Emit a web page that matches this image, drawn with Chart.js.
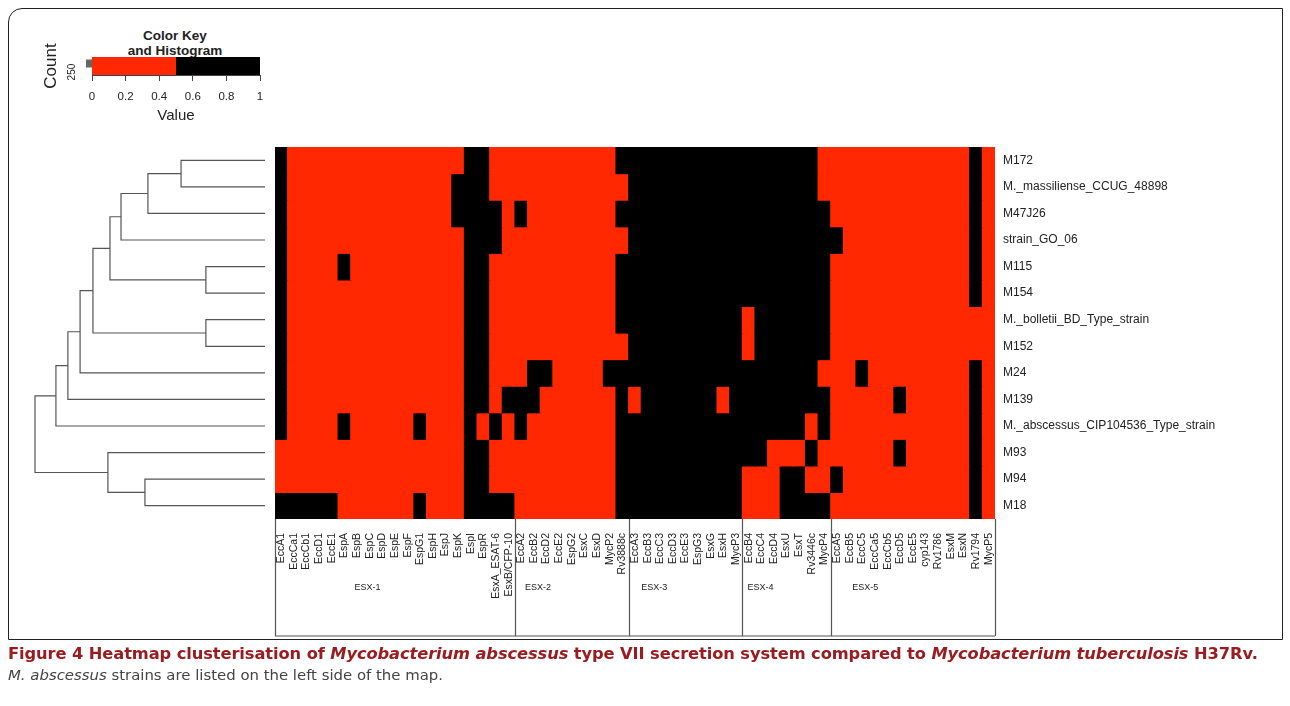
<!DOCTYPE html>
<html>
<head>
<meta charset="utf-8">
<script src="https://cdn.jsdelivr.net/npm/chart.js@4.4.1/dist/chart.umd.min.js"></script>
<style>
  html, body { margin: 0; padding: 0; background: #fff; }
  body { width: 1290px; height: 706px; position: relative; overflow: hidden; font-family: "Liberation Sans", Arial, sans-serif; }
  .frame { position: absolute; left: 8px; top: 8px; width: 1275px; height: 632px; border: 1.5px solid #222; border-top-left-radius: 14px; box-sizing: border-box; }
  canvas { position: absolute; }
  .keytitle { position: absolute; left: 100px; width: 150px; text-align: center; font-weight: bold; font-size: 13.5px; color: #222; line-height: 15px; }
  .cap { position: absolute; left: 8px; top: 643px; width: 1282px; font-family: "DejaVu Sans", sans-serif; line-height: 21px; color: #444; white-space: nowrap; }
  .cap .l1 { font-size: 16.3px; font-weight: bold; color: #9a1c20; letter-spacing: -0.1px; }
  .cap .l2 { font-size: 14.9px; }
</style>
</head>
<body>
<div class="frame"></div>
<div class="keytitle" style="top:28px">Color Key<br>and Histogram</div>
<canvas id="keyChart" width="300" height="125" style="left:0;top:0"></canvas>
<canvas id="dendro" width="275" height="392" style="left:0;top:137px"></canvas>
<canvas id="heat" width="1000" height="508" style="left:265px;top:139px"></canvas>
<div class="cap"><span class="l1">Figure 4 Heatmap clusterisation of <i>Mycobacterium abscessus</i> type VII secretion system compared to <i>Mycobacterium tuberculosis</i> H37Rv.</span><br><span class="l2"><i>M. abscessus</i> strains are listed on the left side of the map.</span></div>
<script>
// strains, top to bottom
const strains = ['M172', 'M._massiliense_CCUG_48898', 'M47J26', 'strain_GO_06', 'M115', 'M154',
    'M._bolletii_BD_Type_strain', 'M152', 'M24', 'M139', 'M._abscessus_CIP104536_Type_strain',
    'M93', 'M94', 'M18'];

// genes, left to right
const genes = ['EccA1', 'EccCa1', 'EccCb1', 'EccD1', 'EccE1', 'EspA', 'EspB', 'EspC', 'EspD', 'EspE',
    'EspF', 'EspG1', 'EspH', 'EspJ', 'EspK', 'EspI', 'EspR', 'EsxA_ESAT-6', 'EsxB/CFP-10',
    'EccA2', 'EccB2', 'EccD2', 'EccE2', 'EspG2', 'EsxC', 'EsxD', 'MycP2', 'Rv3888c',
    'EccA3', 'EccB3', 'EccC3', 'EccD3', 'EccE3', 'EspG3', 'EsxG', 'EsxH', 'MycP3',
    'EccB4', 'EccC4', 'EccD4', 'EsxU', 'EsxT', 'Rv3446c', 'MycP4',
    'EccA5', 'EccB5', 'EccC5', 'EccCa5', 'EccCb5', 'EccD5', 'EccE5', 'cyp143', 'Rv1786', 'EsxM', 'EsxN', 'Rv1794', 'MycP5'];

const groups = ['ESX-1', 'ESX-2', 'ESX-3', 'ESX-4', 'ESX-5'];
const groupStart = [0, 19, 28, 37, 44, 57];

// cell values (0 = red, 1 = black), one row per strain
//              ESX-1                                        ESX-2              ESX-3              ESX-4          ESX-5
const values = [
    [1,0,0,0,0,0,0,0,0,0,0,0,0,0,0,1,1,0,0, 0,0,0,0,0,0,0,0,1, 1,1,1,1,1,1,1,1,1, 1,1,1,1,1,1,0, 0,0,0,0,0,0,0,0,0,0,0,1,0],
    [1,0,0,0,0,0,0,0,0,0,0,0,0,0,1,1,1,0,0, 0,0,0,0,0,0,0,0,0, 1,1,1,1,1,1,1,1,1, 1,1,1,1,1,1,0, 0,0,0,0,0,0,0,0,0,0,0,1,0],
    [1,0,0,0,0,0,0,0,0,0,0,0,0,0,1,1,1,1,0, 1,0,0,0,0,0,0,0,1, 1,1,1,1,1,1,1,1,1, 1,1,1,1,1,1,1, 0,0,0,0,0,0,0,0,0,0,0,1,0],
    [1,0,0,0,0,0,0,0,0,0,0,0,0,0,0,1,1,1,0, 0,0,0,0,0,0,0,0,0, 1,1,1,1,1,1,1,1,1, 1,1,1,1,1,1,1, 1,0,0,0,0,0,0,0,0,0,0,1,0],
    [1,0,0,0,0,1,0,0,0,0,0,0,0,0,0,1,1,0,0, 0,0,0,0,0,0,0,0,1, 1,1,1,1,1,1,1,1,1, 1,1,1,1,1,1,1, 0,0,0,0,0,0,0,0,0,0,0,1,0],
    [1,0,0,0,0,0,0,0,0,0,0,0,0,0,0,1,1,0,0, 0,0,0,0,0,0,0,0,1, 1,1,1,1,1,1,1,1,1, 1,1,1,1,1,1,1, 0,0,0,0,0,0,0,0,0,0,0,1,0],
    [1,0,0,0,0,0,0,0,0,0,0,0,0,0,0,1,1,0,0, 0,0,0,0,0,0,0,0,1, 1,1,1,1,1,1,1,1,1, 0,1,1,1,1,1,1, 0,0,0,0,0,0,0,0,0,0,0,0,0],
    [1,0,0,0,0,0,0,0,0,0,0,0,0,0,0,1,1,0,0, 0,0,0,0,0,0,0,0,0, 1,1,1,1,1,1,1,1,1, 0,1,1,1,1,1,1, 0,0,0,0,0,0,0,0,0,0,0,0,0],
    [1,0,0,0,0,0,0,0,0,0,0,0,0,0,0,1,1,0,0, 0,1,1,0,0,0,0,1,1, 1,1,1,1,1,1,1,1,1, 1,1,1,1,1,1,0, 0,0,1,0,0,0,0,0,0,0,0,1,0],
    [1,0,0,0,0,0,0,0,0,0,0,0,0,0,0,1,1,0,1, 1,1,0,0,0,0,0,0,1, 0,1,1,1,1,1,1,0,1, 1,1,1,1,1,1,1, 0,0,0,0,0,1,0,0,0,0,0,1,0],
    [1,0,0,0,0,1,0,0,0,0,0,1,0,0,0,1,0,1,0, 1,0,0,0,0,0,0,0,1, 1,1,1,1,1,1,1,1,1, 1,1,1,1,1,0,1, 0,0,0,0,0,0,0,0,0,0,0,1,0],
    [0,0,0,0,0,0,0,0,0,0,0,0,0,0,0,1,1,0,0, 0,0,0,0,0,0,0,0,1, 1,1,1,1,1,1,1,1,1, 1,1,0,0,0,1,0, 0,0,0,0,0,1,0,0,0,0,0,1,0],
    [0,0,0,0,0,0,0,0,0,0,0,0,0,0,0,1,1,0,0, 0,0,0,0,0,0,0,0,1, 1,1,1,1,1,1,1,1,1, 0,0,0,1,1,0,0, 1,0,0,0,0,0,0,0,0,0,0,1,0],
    [1,1,1,1,1,0,0,0,0,0,0,1,0,0,0,1,1,1,1, 0,0,0,0,0,0,0,0,1, 1,1,1,1,1,1,1,1,1, 0,0,0,1,1,1,1, 0,0,0,0,0,0,0,0,0,0,0,1,0]
];

// row dendrogram (R style merges: negative = leaf number, positive = earlier merge)
const mergeLeft = [-1, 1, 2, -5, 3, -7, 5, 7, 8, 9, -13, -12, 10];
const mergeRight = [-2, -3, -4, -6, 4, -8, 6, -9, -10, -11, -14, 11, 12];
const mergeHeight = [0.365, 0.509, 0.626, 0.257, 0.674, 0.257, 0.748, 0.804, 0.857, 0.909, 0.522, 0.683, 1.0];

// colour key
const keyBreaks = [0, 0.5, 1];
const keyColors = ['#ff2800', '#000000'];
const keyCountMax = 400;
const keyDensity = 225;

const RED = '#ff2800';
const BLACK = '#000000';
const FONT = '"Liberation Sans", Arial, sans-serif';

// ---------- heatmap ----------
const heatDatasets = values.map((row, i) => ({
    label: strains[i],
    data: row.map(() => [i, i + 1]),
    backgroundColor: row.map(v => v >= 0.5 ? BLACK : RED),
    borderWidth: 0,
    inflateAmount: 0.6,
    barPercentage: 1,
    categoryPercentage: 1,
    grouped: false
}));

const groupBoxes = {
    id: 'groupBoxes',
    afterDraw(chart) {
        const ctx = chart.ctx;
        const area = chart.chartArea;
        const colW = area.width / genes.length;
        const yTop = area.bottom;
        const yBot = area.bottom + 117;
        ctx.save();
        ctx.strokeStyle = '#555';
        ctx.lineWidth = 1.2;
        ctx.beginPath();
        for (const b of groupStart) {
            const x = Math.round(area.left + b * colW) + 0.5;
            ctx.moveTo(x, yTop);
            ctx.lineTo(x, yBot);
        }
        ctx.moveTo(area.left, yBot);
        ctx.lineTo(area.right, yBot);
        ctx.stroke();
        ctx.fillStyle = '#222';
        ctx.font = '9px ' + FONT;
        ctx.textAlign = 'left';
        ctx.textBaseline = 'middle';
        const labelOffset = [6.3, 0.8, 1.0, 0.4, 1.7];
        groups.forEach((g, i) => {
            ctx.fillText(g, area.left + (groupStart[i] + labelOffset[i]) * colW, area.bottom + 69);
        });
        ctx.restore();
    }
};

new Chart(document.getElementById('heat'), {
    type: 'bar',
    data: { labels: genes, datasets: heatDatasets },
    plugins: [groupBoxes],
    options: {
        responsive: false,
        animation: false,
        layout: { padding: { left: 10, top: 8, right: 0, bottom: 0 } },
        plugins: { legend: { display: false }, tooltip: { enabled: false } },
        scales: {
            x: {
                type: 'category',
                grid: { display: false },
                border: { display: false },
                ticks: {
                    autoSkip: false, minRotation: 90, maxRotation: 90, padding: 6,
                    color: '#222', font: { family: FONT, size: 10.5 }
                },
                afterFit: (scale) => { scale.height = 128; }
            },
            y: {
                type: 'linear',
                position: 'right',
                min: 0,
                max: strains.length,
                reverse: true,
                grid: { display: false },
                border: { display: false },
                afterBuildTicks: (axis) => { axis.ticks = strains.map((s, i) => ({ value: i + 0.5 })); },
                ticks: {
                    padding: 0,
                    color: '#222',
                    font: { family: FONT, size: 12 },
                    callback: (v) => strains[Math.floor(v)]
                },
                afterFit: (scale) => { scale.width = 270; }
            }
        }
    }
});

// ---------- dendrogram ----------
function nodePos(k) {
    if (k < 0) return { h: 0, y: -k - 1 + 0.5 };
    const a = nodePos(mergeLeft[k - 1]);
    const b = nodePos(mergeRight[k - 1]);
    return { h: mergeHeight[k - 1], y: (a.y + b.y) / 2 };
}

const dendroDatasets = mergeHeight.map((h, m) => {
    const a = nodePos(mergeLeft[m]);
    const b = nodePos(mergeRight[m]);
    return {
        data: [{ x: a.h, y: a.y }, { x: h, y: a.y }, { x: h, y: b.y }, { x: b.h, y: b.y }],
        showLine: true,
        borderColor: '#555',
        borderWidth: 1.2,
        pointRadius: 0,
        tension: 0,
        clip: false
    };
});

new Chart(document.getElementById('dendro'), {
    type: 'scatter',
    data: { datasets: dendroDatasets },
    options: {
        responsive: false,
        animation: false,
        layout: { padding: { left: 35, right: 10, top: 10, bottom: 10 } },
        plugins: { legend: { display: false }, tooltip: { enabled: false } },
        scales: {
            x: { type: 'linear', min: 0, max: 1, reverse: true, display: false },
            y: { type: 'linear', min: 0, max: strains.length, reverse: true, display: false }
        }
    }
});

// ---------- colour key ----------
const keyDatasets = keyColors.map((c, i) => ({
    data: [{ x: keyBreaks[i], y: keyCountMax }, { x: keyBreaks[i + 1], y: keyCountMax }],
    fill: 'origin',
    backgroundColor: c,
    borderWidth: 0,
    pointRadius: 0
}));
keyDatasets.push({
    data: [{ x: keyBreaks[1], y: keyDensity }, { x: keyBreaks[2], y: keyDensity }],
    fill: false,
    borderColor: '#34c4c0',
    borderWidth: 1.5,
    pointRadius: 0
});

new Chart(document.getElementById('keyChart'), {
    type: 'line',
    data: { datasets: keyDatasets },
    options: {
        responsive: false,
        animation: false,
        layout: { padding: { left: 41, right: 40, top: 57, bottom: 0 } },
        plugins: { legend: { display: false }, tooltip: { enabled: false } },
        scales: {
            x: {
                type: 'linear', min: 0, max: 1,
                grid: { drawOnChartArea: false, tickLength: 6, color: '#444' },
                border: { color: '#444' },
                ticks: {
                    stepSize: 0.2, padding: 9, color: '#222', font: { family: FONT, size: 11.5 },
                    callback: (v) => String(Math.round(v * 10) / 10)
                },
                title: { display: true, text: 'Value', color: '#222', padding: 0, font: { family: FONT, size: 15 } },
                afterFit: (scale) => { scale.height = 50; }
            },
            y: {
                type: 'linear', min: 0, max: keyCountMax,
                afterBuildTicks: (axis) => { axis.ticks = [{ value: 250 }]; },
                grid: { drawOnChartArea: false, tickLength: 6, tickWidth: 8, color: '#666' },
                border: { display: false },
                ticks: { minRotation: 90, maxRotation: 90, padding: 14, color: '#222', font: { family: FONT, size: 10 } },
                title: { display: true, text: 'Count', color: '#222', padding: 0, font: { family: FONT, size: 17 } },
                afterFit: (scale) => { scale.width = 51; }
            }
        }
    }
});
</script>
</body>
</html>
